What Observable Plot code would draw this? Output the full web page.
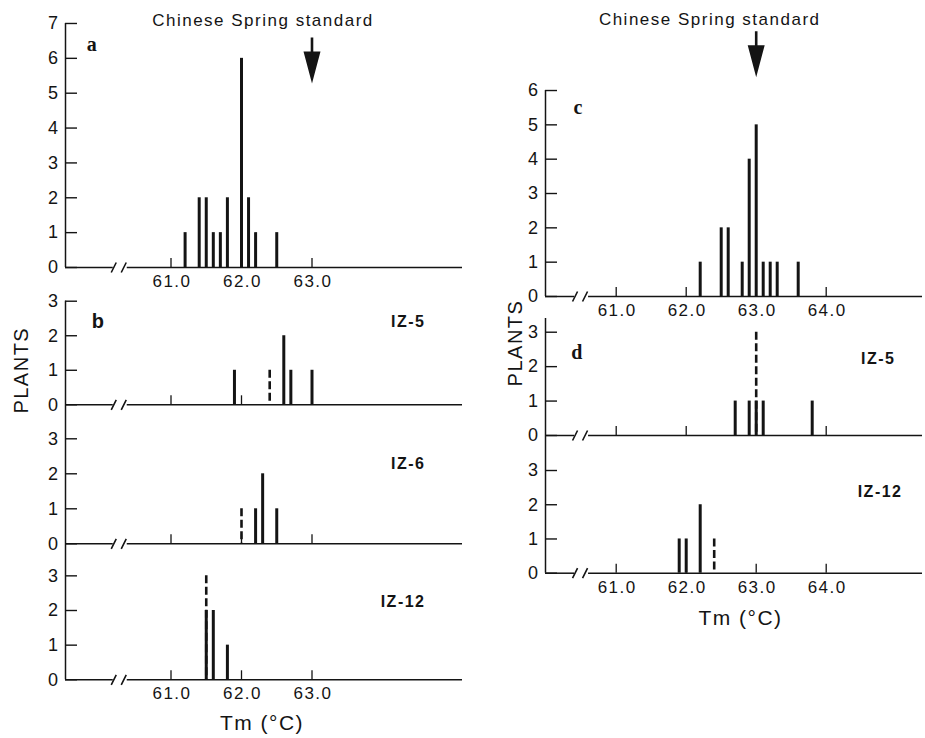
<!DOCTYPE html>
<html><head><meta charset="utf-8">
<script src="https://cdn.jsdelivr.net/npm/d3@7"></script>
<script src="https://cdn.jsdelivr.net/npm/@observablehq/plot@0.6"></script>
<style>
body{margin:0;background:#fff;}
#chart{position:relative;width:925px;height:738px;background:#fff;overflow:hidden;}
#chart svg{position:absolute;left:0;top:0;}
#chart svg text{letter-spacing:1.5px;}
</style></head><body><div id="chart"></div>
<script>
// ---------- data ----------
const xTicksLeft = [61.0, 62.0, 63.0];
const xTicksRight = [61.0, 62.0, 63.0, 64.0];
const yTicks7 = [0, 1, 2, 3, 4, 5, 6, 7];
const yTicks6 = [0, 1, 2, 3, 4, 5, 6];
const yTicks3 = [0, 1, 2, 3];

const standardLabel = "Chinese Spring standard";
const standardTmA = [63.0];
const standardTmC = [63.0];

// panel a
const aTm     = [61.2, 61.4, 61.5, 61.6, 61.7, 61.8, 62.0, 62.1, 62.2, 62.5];
const aPlants = [1, 2, 2, 1, 1, 2, 6, 2, 1, 1];
// panel b IZ-5
const b5Tm     = [61.9, 62.6, 62.7, 63.0];
const b5Plants = [1, 2, 1, 1];
const b5DashTm = [62.4], b5DashPlants = [1];
// panel b IZ-6
const b6Tm     = [62.2, 62.3, 62.5];
const b6Plants = [1, 2, 1];
const b6DashTm = [62.0], b6DashPlants = [1];
// panel b IZ-12
const b12Tm     = [61.5, 61.6, 61.8];
const b12Plants = [2, 2, 1];
const b12DashTm = [61.5], b12DashPlants = [3];
// panel c
const cTm     = [62.2, 62.5, 62.6, 62.8, 62.9, 63.0, 63.1, 63.2, 63.3, 63.6];
const cPlants = [1, 2, 2, 1, 4, 5, 1, 1, 1, 1];
// panel d IZ-5
const d5Tm     = [62.7, 62.9, 63.0, 63.1, 63.8];
const d5Plants = [1, 1, 1, 1, 1];
const d5DashTm = [63.0], d5DashPlants = [3];
// panel d IZ-12
const d12Tm     = [61.9, 62.0, 62.2];
const d12Plants = [1, 1, 2];
const d12DashTm = [62.4], d12DashPlants = [1];

// ---------- drawing ----------
const INK = "#141414";
const SANS = "Liberation Sans, Arial, Helvetica, sans-serif";
const SERIF = "Liberation Serif, DejaVu Serif, serif";
const fmt1 = d3.format(".1f");
const stems = (tm, n) => tm.map((t, i) => ({tm: t, plants: n[i]}));

// filled arrow (shaft + head), tip at the anchor point
const arrowSymbol = {
  draw(ctx) {
    ctx.moveTo(-1.3, -46); ctx.lineTo(1.3, -46); ctx.lineTo(1.3, -32);
    ctx.lineTo(8.5, -32); ctx.lineTo(0, 0); ctx.lineTo(-8.5, -32);
    ctx.lineTo(-1.3, -32); ctx.closePath();
  }
};
// break mark: two slanted strokes
const breakSymbol = {
  draw(ctx) {
    ctx.moveTo(-9, 5); ctx.lineTo(-4, -5);
    ctx.moveTo(1, 5); ctx.lineTo(6, -5);
  }
};

const LEFT  = {x0v: 61, x0px: 170.5, pxX: 70.5, left: 65,  right: 462, brk: 60.28, xTicks: xTicksLeft};
const RIGHT = {x0v: 61, x0px: 615.7, pxX: 70,   left: 545, right: 922, brk: 60.505, xTicks: xTicksRight};

function panel(g) {
  const x0 = g.x0v + (g.left - g.x0px) / g.pxX;
  const x1 = g.x0v + (g.right - g.x0px) / g.pxX;
  const yMax = (g.base - g.top) / g.pxY;
  const gap = 7 / g.pxX;
  const marks = [
    // y axis line
    Plot.ruleX([x0], {x: d => d, y1: () => 0, y2: () => yMax, stroke: INK, strokeWidth: 1.5}),
    // baseline with break
    Plot.ruleY([0], {y: d => d, x1: () => x0, x2: () => g.brk - gap, stroke: INK, strokeWidth: 1.5}),
    Plot.ruleY([0], {y: d => d, x1: () => g.brk + gap, x2: () => x1, stroke: INK, strokeWidth: 1.5}),
    Plot.dot([g.brk], {x: d => d, y: () => 0, symbol: breakSymbol, stroke: INK, strokeWidth: 1.6, fill: "none"}),
    // inward y ticks + labels
    Plot.ruleY(g.yTicks, {y: d => d, x1: () => x0, x2: () => x0 + 12 / g.pxX, stroke: INK, strokeWidth: 1.4}),
    Plot.text(g.yTicks, {x: () => x0, y: d => d, text: d => String(d), dx: -6, textAnchor: "end",
      lineAnchor: "middle", fontSize: 18, fontFamily: SANS, fill: INK}),
    // small upward x ticks
    Plot.ruleX(g.xTicks, {x: d => d, y1: () => 0, y2: () => 9 / g.pxY, stroke: INK, strokeWidth: 1.3}),
    // stems
    Plot.ruleX(g.bars, {x: "tm", y1: () => 0, y2: "plants", stroke: INK, strokeWidth: 3}),
  ];
  if (g.dashed && g.dashed.length)
    marks.push(Plot.ruleX(g.dashed, {x: "tm", y1: "plants", y2: () => 0, stroke: INK,
      strokeWidth: 2.6, strokeDasharray: "8,3.5"}));
  if (g.xLabels)
    marks.push(Plot.text(g.xTicks, {x: d => d, y: () => 0, text: fmt1, dy: 14, dx: 1,
      textAnchor: "middle", lineAnchor: "middle", fontSize: 17, fontFamily: SANS, fill: INK}));
  if (g.panelLabel)
    marks.push(Plot.text([g.panelLabel], {text: d => d, frameAnchor: "top-left", dx: g.pl[0], dy: g.pl[1],
      fontFamily: g.plFont || SERIF, fontWeight: "bold", fontSize: 20, fill: INK,
      textAnchor: "middle", lineAnchor: "middle"}));
  if (g.line)
    marks.push(Plot.text([g.line], {text: d => d, frameAnchor: "top-right", dx: g.lp[0], dy: g.lp[1],
      fontFamily: SANS, fontWeight: "bold", fontSize: 16, fill: INK,
      textAnchor: "end", lineAnchor: "middle"}));
  if (g.extra) marks.push(...g.extra);
  return Plot.plot({
    width: 925, height: 738,
    marginLeft: g.left, marginRight: 925 - g.right,
    marginTop: g.top, marginBottom: 738 - g.base,
    x: {domain: [x0, x1], axis: null},
    y: {domain: [0, yMax], axis: null},
    style: {fontFamily: SANS, fontSize: "16px", color: INK, background: "none", overflow: "visible"},
    marks
  });
}

const standardText = (dx, dy) => Plot.text([standardLabel], {text: d => d, frameAnchor: "top-left", dx, dy,
  fontSize: 17, fontFamily: SANS, fill: INK, textAnchor: "middle", lineAnchor: "middle"});
const plantsText = (dx, dy) => Plot.text(["PLANTS"], {text: d => d, frameAnchor: "top-left", dx, dy, rotate: -90,
  fontSize: 20, fontFamily: SANS, fill: INK, textAnchor: "middle", lineAnchor: "middle"});
const tmText = (dx, dy) => Plot.text(["Tm (°C)"], {text: d => d, frameAnchor: "bottom-left", dx, dy,
  fontSize: 21, fontFamily: SANS, fill: INK, textAnchor: "middle", lineAnchor: "middle"});

const panels = [
  {...LEFT, top: 23, base: 267, pxY: 34.86, yTicks: yTicks7, xLabels: true,
    bars: stems(aTm, aPlants), panelLabel: "a", pl: [27, 21],
    extra: [standardText(197.5, -3),
      Plot.dot(standardTmA, {x: d => d, y: () => 7, symbol: arrowSymbol, fill: INK, stroke: "none", dy: 60})]},
  {...LEFT, top: 300.7, base: 404.3, pxY: 34.53, yTicks: yTicks3,
    bars: stems(b5Tm, b5Plants), dashed: stems(b5DashTm, b5DashPlants),
    panelLabel: "b", plFont: SANS, pl: [33, 20], line: "IZ-5", lp: [-37, 21],
    extra: [plantsText(-44, 69)]},
  {...LEFT, top: 404.3, base: 543.3, pxY: 35, yTicks: yTicks3,
    bars: stems(b6Tm, b6Plants), dashed: stems(b6DashTm, b6DashPlants),
    line: "IZ-6", lp: [-37, 58.7]},
  {...LEFT, top: 543.3, base: 679.3, pxY: 34.65, yTicks: yTicks3, xLabels: true,
    bars: stems(b12Tm, b12Plants), dashed: stems(b12DashTm, b12DashPlants),
    line: "IZ-12", lp: [-37, 58.4], extra: [tmText(196.5, 43.7)]},
  {...RIGHT, top: 90, base: 296, pxY: 34.33, yTicks: yTicks6, xLabels: true,
    bars: stems(cTm, cPlants), panelLabel: "c", pl: [33.3, 17],
    extra: [standardText(164.2, -70.7),
      Plot.dot(standardTmC, {x: d => d, y: () => 206 / 34.33, symbol: arrowSymbol, fill: INK, stroke: "none", dy: -13.3})]},
  {...RIGHT, top: 318, base: 435, pxY: 34.43, yTicks: yTicks3,
    bars: stems(d5Tm, d5Plants), dashed: stems(d5DashTm, d5DashPlants),
    panelLabel: "d", pl: [32, 34], line: "IZ-5", lp: [-27, 40.3],
    extra: [plantsText(-29.5, 24.5)]},
  {...RIGHT, top: 435, base: 572.7, pxY: 34.23, yTicks: yTicks3, xLabels: true,
    bars: stems(d12Tm, d12Plants), dashed: stems(d12DashTm, d12DashPlants),
    line: "IZ-12", lp: [-20, 56.7], extra: [tmText(195, 45.3)]}
];

const host = document.getElementById("chart");
for (const g of panels) host.appendChild(panel(g));
</script>
</body></html>
